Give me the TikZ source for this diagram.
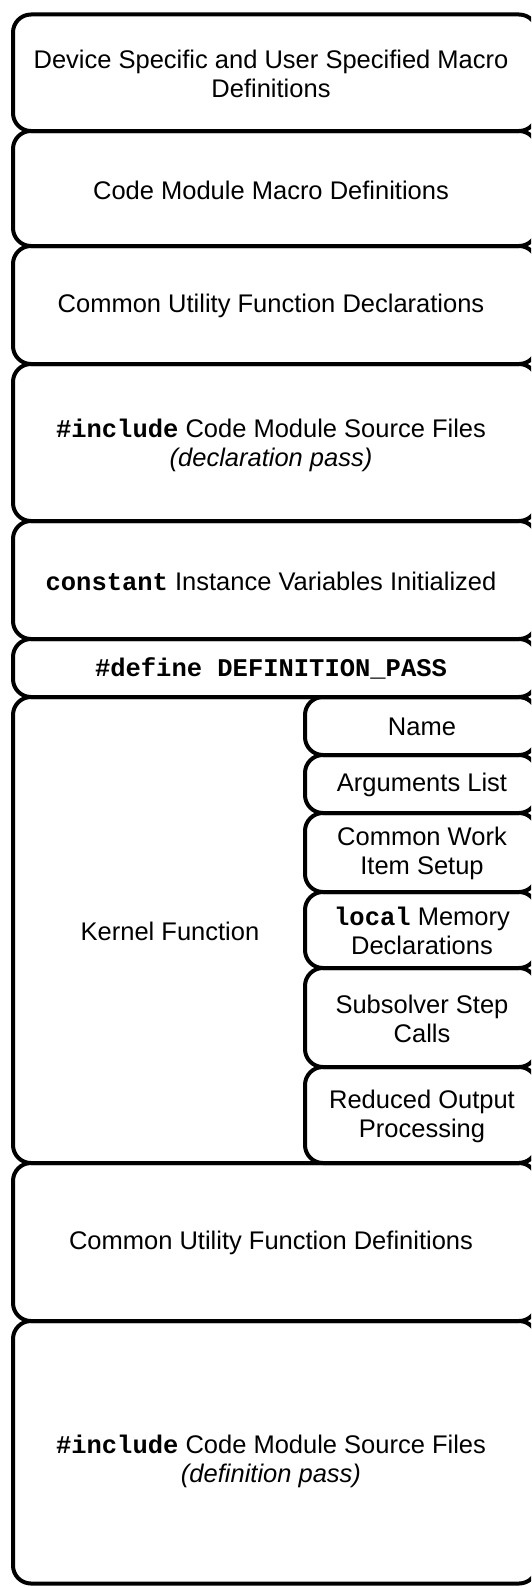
\documentclass[tikz,border=0pt]{standalone}
\usepackage{fontspec}
\setmainfont{Liberation Sans}
\setmonofont{Liberation Mono}
\begin{document}
\begin{tikzpicture}[x=1pt,y=-1pt,
  blk/.style={draw=black, line width=4pt, rounded corners=18pt},
  lbl/.style={align=center, font=\fontsize{25.5}{29}\selectfont, inner sep=0pt},
  code/.style={font=\ttfamily\bfseries}
]
\useasboundingbox (0,0) rectangle (531,1587);
\clip (0,0) rectangle (531,1587);
% main stacked blocks
\draw[blk] (13,14.5) rectangle (537,131);
\draw[blk] (13,131) rectangle (537,246);
\draw[blk] (13,246) rectangle (537,364);
\draw[blk] (13,364) rectangle (537,521);
\draw[blk] (13,521) rectangle (537,639);
\draw[blk] (13,639) rectangle (537,697);
\draw[blk] (13,697) rectangle (537,1163);
\draw[blk] (13,1163) rectangle (537,1321);
\draw[blk] (13,1321) rectangle (537,1583.5);
% kernel sub blocks
\draw[blk] (305,697) rectangle (537,755);
\draw[blk] (305,755) rectangle (537,813);
\draw[blk] (305,813) rectangle (537,892);
\draw[blk] (305,892) rectangle (537,968);
\draw[blk] (305,968) rectangle (537,1067);
\draw[blk] (305,1067) rectangle (537,1163);
% labels
\node[lbl] (t1) at (271,74) {Device Specific and User Specified Macro\\Definitions};
\node[lbl] (t2) at (271,190) {Code Module Macro Definitions};
\node[lbl] (t3) at (271,306) {Common Utility Function Declarations};
\node[lbl] (t4) at (271,445) {{\ttfamily\bfseries \#include} Code Module Source Files\\\textit{(declaration pass)}};
\node[lbl] (t5) at (271,581) {{\ttfamily\bfseries constant} Instance Variables Initialized};
\node[lbl] (t6) at (271,668) {{\ttfamily\bfseries \#define DEFINITION\_PASS}};
\node[lbl] (t7) at (170,931) {Kernel Function};
\node[lbl] (s1) at (422,727) {Name};
\node[lbl] (s2) at (422,785) {Arguments List};
\node[lbl] (s3) at (422,853.5) {Common Work\\Item Setup};
\node[lbl] (s4) at (422,931) {{\ttfamily\bfseries local} Memory\\Declarations};
\node[lbl] (s5) at (422,1018.5) {Subsolver Step\\Calls};
\node[lbl] (s6) at (422,1116) {Reduced Output\\Processing};
\node[lbl] (t8) at (271,1243) {Common Utility Function Definitions};
\node[lbl] (t9) at (271,1461) {{\ttfamily\bfseries \#include} Code Module Source Files\\\textit{(definition pass)}};
\end{tikzpicture}
\end{document}
